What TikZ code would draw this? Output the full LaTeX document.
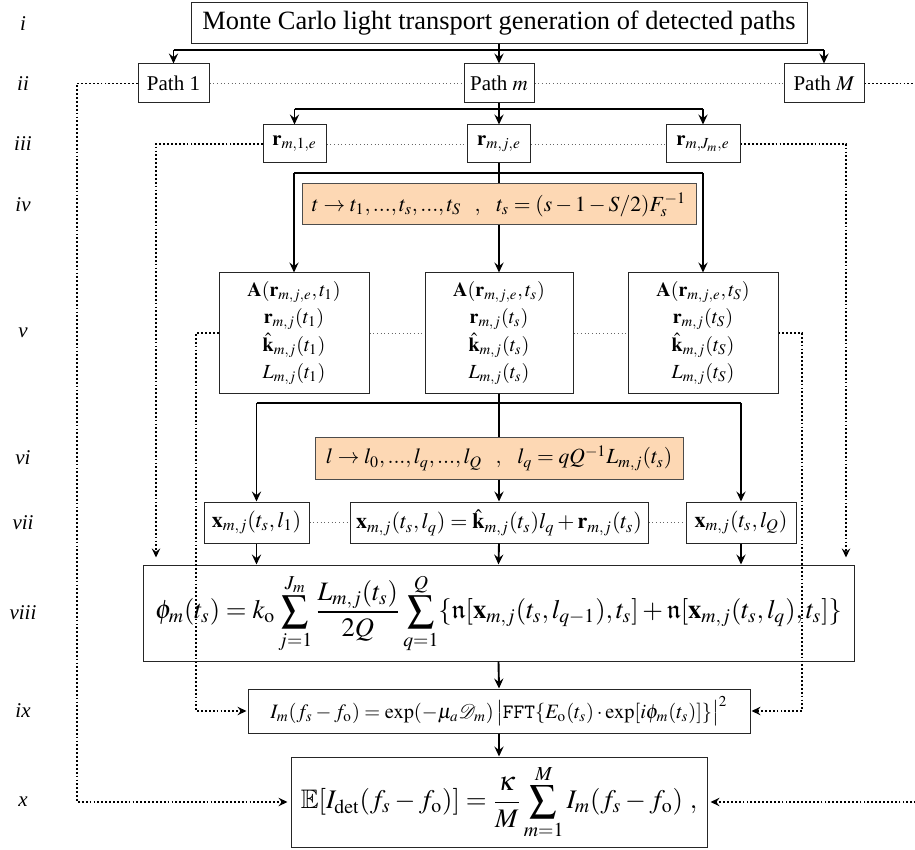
\documentclass[tikz,border=0pt]{standalone}
\usepackage{amsmath}
\usepackage{amssymb}
\usepackage{mathptmx}
\usepackage{mathrsfs}
\usepackage[no-math]{fontspec}
\setmainfont{Liberation Serif}
\usetikzlibrary{arrows.meta}

\definecolor{peach}{RGB}{253,216,180}
\newcommand{\gapsep}{\hspace{0.62em},\hspace{0.62em}}

\begin{document}
\begin{tikzpicture}[x=0.5pt,y=-0.5pt,
  box/.style={draw=black!85, line width=0.5pt, inner sep=0pt, align=center,
    font=\fontsize{11}{13}\selectfont},
  pathbox/.style={box, font=\fontsize{10.5}{12}\selectfont, minimum height=19.5pt},
  rbox/.style={box, minimum height=19pt, font=\fontsize{10.4}{12}\selectfont},
  vbox/.style={box, minimum width=75pt, minimum height=60pt,
    font=\fontsize{10}{13.6}\selectfont},
  xbox/.style={box, minimum height=20.5pt, font=\fontsize{11}{13}\selectfont},
  orangebox/.style={box, fill=peach, draw=black!70, minimum height=20.5pt,
    font=\fontsize{10.8}{13}\selectfont},
  lab/.style={font=\fontsize{10.5}{12}\selectfont\itshape, anchor=center},
  link/.style={line width=0.95pt},
  branch/.style={line width=1.2pt},
  arr/.style={line width=0.95pt, -{Stealth[length=5pt,width=4.6pt,inset=1.8pt]}},
  outer/.style={line width=0.9pt, dash pattern=on 0.9pt off 1.05pt},
  outerarr/.style={outer, -{Stealth[length=4.5pt,width=4.2pt,inset=1.6pt]}},
  thin dots/.style={draw=black!60, line width=0.45pt, dash pattern=on 0.45pt off 1.4pt}]
\useasboundingbox (0,0) rectangle (915,850);

% row labels
\node[lab] (li)    at (23,23.5)  {i};
\node[lab] (lii)   at (23,83.5)  {ii};
\node[lab] (liii)  at (23,144)   {iii};
\node[lab] (liv)   at (23,204.5) {iv};
\node[lab] (lv)    at (23,333)   {v};
\node[lab] (lvi)   at (23,458)   {vi};
\node[lab] (lvii)  at (23,522.5) {vii};
\node[lab] (lviii) at (23,613)   {viii};
\node[lab] (lix)   at (23,711)   {ix};
\node[lab] (lx)    at (23,802)   {x};

% i: path generation
\node[box, minimum width=308pt, minimum height=20.5pt, font=\fontsize{13.2}{15}\selectfont]
  (title) at (499,23.5) {Monte Carlo light transport generation of detected paths};

% ii: paths
\node[pathbox, minimum width=35.5pt] (p1) at (173.5,83.5) {Path 1};
\node[pathbox, minimum width=35pt]   (pm) at (499,83.5)   {Path $m$};
\node[pathbox, minimum width=40pt]   (pM) at (824,83.5)   {Path $M$};

% iii: emission points
\node[rbox, minimum width=31.5pt] (r1) at (294.5,144) {$\mathbf{r}_{m,1,e}$};
\node[rbox, minimum width=31.5pt] (r2) at (499,144)   {$\mathbf{r}_{m,j,e}$};
\node[rbox, minimum width=37pt]   (r3) at (703,144)   {$\mathbf{r}_{m,J_m,e}$};

% iv: time sampling
\node[orangebox, minimum width=197pt] (tsamp) at (499,204.5)
  {$t\rightarrow t_1,...,t_s,...,t_S\gapsep t_s=(s-1-S/2)F_s^{-1}$};

% v: per-time quantities
\node[vbox] (v1) at (294,333)
  {$\mathbf{A}(\mathbf{r}_{m,j,e},t_1)$\\ $\mathbf{r}_{m,j}(t_1)$\\ $\hat{\mathbf{k}}_{m,j}(t_1)$\\ $L_{m,j}(t_1)$};
\node[vbox, minimum width=74pt] (v2) at (499,333)
  {$\mathbf{A}(\mathbf{r}_{m,j,e},t_s)$\\ $\mathbf{r}_{m,j}(t_s)$\\ $\hat{\mathbf{k}}_{m,j}(t_s)$\\ $L_{m,j}(t_s)$};
\node[vbox] (v3) at (703,333)
  {$\mathbf{A}(\mathbf{r}_{m,j,e},t_S)$\\ $\mathbf{r}_{m,j}(t_S)$\\ $\hat{\mathbf{k}}_{m,j}(t_S)$\\ $L_{m,j}(t_S)$};

% vi: length sampling
\node[orangebox, minimum width=184pt, minimum height=21pt] (lsamp) at (499,458)
  {$l\rightarrow l_0,...,l_q,...,l_Q\gapsep l_q=qQ^{-1}L_{m,j}(t_s)$};

% vii: sample positions
\node[xbox, minimum width=52.5pt] (x1) at (256.5,522.5) {$\mathbf{x}_{m,j}(t_s,l_1)$};
\node[xbox, minimum width=149pt]  (x2) at (499,522.5)
  {$\mathbf{x}_{m,j}(t_s,l_q)=\hat{\mathbf{k}}_{m,j}(t_s)l_q+\mathbf{r}_{m,j}(t_s)$};
\node[xbox, minimum width=55pt]   (x3) at (741,522.5) {$\mathbf{x}_{m,j}(t_s,l_Q)$};

% viii: phase
\node[box, minimum width=355.5pt, minimum height=48pt, font=\fontsize{13.3}{15}\selectfont]
  (phi) at (498.5,613)
  {$\displaystyle \phi_m(t_s)=k_{\mathrm{o}}\sum_{j=1}^{J_m}\frac{L_{m,j}(t_s)}{2Q}\sum_{q=1}^{Q}\{\mathfrak{n}[\mathbf{x}_{m,j}(t_s,l_{q-1}),t_s]+\mathfrak{n}[\mathbf{x}_{m,j}(t_s,l_q),t_s]\}$};

% ix: spectrum of one path
\node[box, minimum width=251pt, minimum height=22pt, font=\fontsize{10.2}{12}\selectfont] (Im) at (499,711)
  {$I_m(f_s-f_{\mathrm{o}})=\exp(-\mu_a\mathscr{D}_m)\,\bigl|\text{\ttfamily FFT}\{E_{\mathrm{o}}(t_s)\cdot\exp[i\phi_m(t_s)]\}\bigr|^2$};

% x: expected detected spectrum
\node[box, minimum width=208pt, minimum height=45pt, font=\fontsize{13.4}{15}\selectfont]
  (E) at (499,802)
  {$\displaystyle \mathbb{E}[I_{\mathrm{det}}(f_s-f_{\mathrm{o}})]=\frac{\kappa}{M}\sum_{m=1}^{M}I_m(f_s-f_{\mathrm{o}})\ ,$};

% junction points of the solid branches
\coordinate (j1) at (499,50);
\coordinate (j2) at (499,109);
\coordinate (j3) at (499,173);
\coordinate (j4) at (499,403);
% vertical runs of the dotted side links
\coordinate (oL) at (77,0);
\coordinate (oR) at (921,0);
\coordinate (mL) at (156,0);
\coordinate (mR) at (846,0);
\coordinate (iL) at (196,0);
\coordinate (iR) at (802,0);

% i -> ii
\draw[link] (title.south) -- (j1);
\draw[branch] (p1 |- j1) -- (pM |- j1);
\draw[arr] (p1 |- j1) -- (p1.north);
\draw[arr] (j1) -- (pm.north);
\draw[arr] (pM |- j1) -- (pM.north);

% ii -> iii
\draw[link] (pm.south) -- (j2);
\draw[branch] (r1 |- j2) -- (r3 |- j2);
\draw[arr] (r1 |- j2) -- (r1.north);
\draw[arr] (j2) -- (r2.north);
\draw[arr] (r3 |- j2) -- (r3.north);

% iii -> iv -> v
\draw[link] (r2.south) -- (j3);
\draw[branch] (v1 |- j3) -- (v3 |- j3);
\draw[arr] (v1 |- j3) -- (v1.north);
\draw[link] (j3) -- (tsamp.north);
\draw[arr] (tsamp.south) -- (v2.north);
\draw[arr] (v3 |- j3) -- (v3.north);

% v -> vi -> vii
\draw[link] (v2.south) -- (j4);
\draw[branch] (x1 |- j4) -- (x3 |- j4);
\draw[arr] (x1 |- j4) -- (x1.north);
\draw[link] (j4) -- (lsamp.north);
\draw[arr] (lsamp.south) -- (x2.north);
\draw[arr] (x3 |- j4) -- (x3.north);

% vii -> viii -> ix -> x
\draw[arr] (x1.south) -- (x1.south |- phi.north);
\draw[arr] (x2.south) -- (phi.north);
\draw[arr] (x3.south) -- (x3.south |- phi.north);
\draw[arr] (phi.south) -- (Im.north);
\draw[arr] (Im.south) -- (E.north);

% thin dotted ties within a row
\draw[thin dots] (p1.east) -- (pm.west);
\draw[thin dots] (pm.east) -- (pM.west);
\draw[thin dots] (r1.east) -- (r2.west);
\draw[thin dots] (r2.east) -- (r3.west);
\draw[thin dots] (v1.east) -- (v2.west);
\draw[thin dots] (v2.east) -- (v3.west);
\draw[thin dots] (x1.east) -- (x2.west);
\draw[thin dots] (x2.east) -- (x3.west);

% dotted side links
\draw[outerarr, shorten >=1.5pt] (p1.west) -- (p1.west -| oL) -- (E.west -| oL) -- (E.west);
\draw[outerarr, shorten >=1.5pt] (pM.east) -- (pM.east -| oR) -- (E.east -| oR) -- (E.east);
\draw[outerarr, shorten >=3.5pt] (r1.west) -- (r1.west -| mL) -- (mL |- phi.north);
\draw[outerarr, shorten >=3.5pt] (r3.east) -- (r3.east -| mR) -- (mR |- phi.north);
\draw[outerarr, shorten >=0.5pt] (v1.west) -- (v1.west -| iL) -- (Im.west -| iL) -- (Im.west);
\draw[outerarr, shorten >=0.5pt] (v3.east) -- (v3.east -| iR) -- (Im.east -| iR) -- (Im.east);
\end{tikzpicture}
\end{document}
